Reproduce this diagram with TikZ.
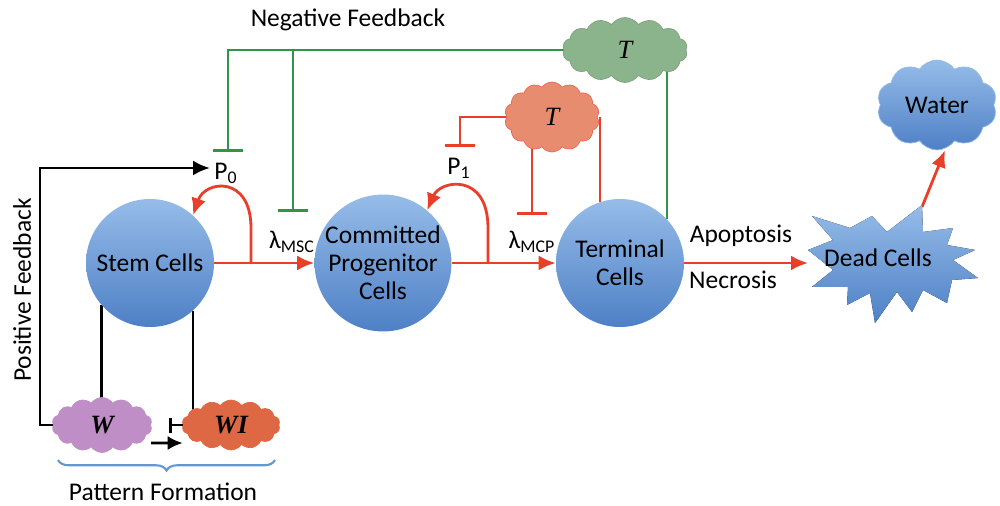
\documentclass[tikz,border=0pt]{standalone}
\usepackage{fontspec}
\setmainfont{Carlito}
\newfontfamily\timesfont{Liberation Serif}
\usetikzlibrary{arrows}
\usetikzlibrary{arrows.meta}
\usetikzlibrary{shapes.symbols}
\usetikzlibrary{decorations.pathreplacing}
\usetikzlibrary{backgrounds}
\usetikzlibrary{positioning}
\definecolor{cellhi}{RGB}{150,188,232}
\definecolor{celllo}{RGB}{78,128,198}
\definecolor{fbred}{RGB}{232,62,42}
\definecolor{fbgreen}{RGB}{46,150,70}
\definecolor{tgreen}{RGB}{140,180,140}
\definecolor{tred}{RGB}{232,140,112}
\definecolor{wpurple}{RGB}{192,142,198}
\definecolor{worange}{RGB}{222,104,68}
\definecolor{braceblue}{RGB}{100,150,210}
\tikzset{cell/.style = {circle, minimum size=2.56cm, inner sep=0pt, align=center,
                        top color=cellhi, bottom color=celllo},
         puff/.style = {cloud, cloud puffs=14, cloud puff arc=110, cloud ignores aspect,
                        inner sep=0pt, font=\timesfont\itshape\fontsize{15}{17}\selectfont},
         redarrow/.style = {fbred, line width=1.6pt, -{Latex[length=3.4mm,width=3mm]}},
         redbar/.style = {fbred, line width=1.5pt, -{Bar[width=6mm,line width=1.5pt]}},
         greenbar/.style = {fbgreen, line width=1.6pt, -{Bar[width=6mm,line width=1.6pt]}},
         blackline/.style = {black, line width=1.6pt}}

\begin{document}
\begin{tikzpicture}[x=0.02cm, y=-0.02cm, font=\fontsize{14.5}{16}\selectfont]
      \useasboundingbox (0,0) rectangle (1000,506);

      \node [cell] (sc) at (150,263) {Stem Cells};
      \node [cell] (cp) at (383,263) {Committed\\Progenitor\\Cells};
      \node [cell] (tc) at (620,263) {Terminal\\Cells};

      % dead cells burst
      \fill [top color=cellhi, bottom color=celllo]
            (808,250) -- (833,240) -- (812,216) -- (850,228) -- (872,216) -- (887,232)
         -- (922,205) -- (923,232) -- (953,228) -- (947,245) -- (975,250) -- (953,260)
         -- (978,278) -- (952,280) -- (947,303) -- (923,290) -- (912,312) -- (897,292)
         -- (875,323) -- (870,293) -- (847,305) -- (848,287) -- (812,287) -- (833,270) -- cycle;
      \node (dc) at (878,258) {Dead Cells};
      \node [puff, cloud puffs=10, minimum width=2.4cm, minimum height=1.8cm, top color=cellhi, bottom color=celllo,
             draw=cellhi, font=\fontsize{14.5}{16}\selectfont] (wa) at (937,105) {Water};

      \node [puff, fill=tgreen, draw=tgreen!90!black, minimum width=2.5cm, minimum height=1.3cm] (tg) at (625,50) {T};
      \node [puff, fill=tred, draw=fbred!80, minimum width=1.9cm, minimum height=1.4cm] (tr) at (552,117) {T};
      \node [puff, fill=wpurple, draw=wpurple, minimum width=2cm, minimum height=1.1cm,
             font=\timesfont\bfseries\itshape\fontsize{15}{17}\selectfont] (wc) at (102,425) {W};
      \node [puff, fill=worange, draw=worange, minimum width=1.96cm, minimum height=1cm,
             font=\timesfont\bfseries\itshape\fontsize{15}{17}\selectfont] (wi) at (231,425) {WI};

      % labels
      \node (nf) at (348,20) {Negative Feedback};
      \node [rotate=90] (pf) at (22,290) {Positive Feedback};
      \node (pt) at (163,492) {Pattern Formation};
      \node (p0) at (226,173) {P\textsubscript{0}};
      \node (p1) at (459,168) {P\textsubscript{1}};
      \node (lmsc) at (292,242) {λ\textsubscript{MSC}};
      \node (lmcp) at (532,242) {λ\textsubscript{MCP}};
      \node (ap) at (741,236) {Apoptosis};
      \node (ne) at (733,280) {Necrosis};

      \coordinate (b0) at (228,152);
      \coordinate (b1) at (293,212);
      \coordinate (b2) at (460,147);
      \coordinate (b3) at (532,215);
      \coordinate (pa) at (210,168);
      \coordinate (l0) at (251,263);
      \coordinate (l1) at (488,263);
      \coordinate (du) at (922,207);
      \coordinate (di) at (808,263);

      \begin{pgfonlayer}{background}
        \draw [greenbar] (tg.center) -| (b0);
        \draw [greenbar] (b1 |- tg.center) -- (b1);
        \draw [fbgreen, line width=1.6pt] (tc.43) -- (tc.43 |- tg.center);
        \draw [redbar] (tr.center) -| (b2);
        \draw [redbar] (b3 |- tr.center) -- (b3);
        \draw [fbred, line width=1.5pt] (tc.108) -- (tc.108 |- tr.center);
        \draw [blackline] (sc.221) -- (sc.221 |- wc.center);
        \draw [blackline] (sc.312) -- (sc.312 |- wi.center);
        \draw [blackline, -{Latex[length=3.4mm,width=3mm]}] (wc.center) -- ++(-62,0) |- (pa);
        \draw [redarrow] (du) -- ([xshift=0.16cm]wa.south);
      \end{pgfonlayer}

      \draw [redarrow] (sc.east) -- (cp.west);
      \draw [redarrow] (cp.east) -- (tc.west);
      \draw [redarrow] (tc.east) -- (di);
      \draw [redarrow] (l0) -- ++(0,-35) .. controls (251,175) and (205,180) .. (sc.48);
      \draw [redarrow] (l1) -- ++(0,-35) .. controls (488,172) and (440,180) .. (cp.50);

      \draw [blackline, -{Latex[length=3mm,width=2.8mm]}] ([yshift=-0.36cm]wc.east) -- ([yshift=-0.36cm]wi.west);
      \draw [blackline, -{Bar[width=3mm,line width=1.6pt]}] (wi.west) -- ++(-14,0);

      \draw [braceblue, line width=1.2pt, decorate, decoration={brace, amplitude=6pt, mirror}] (58,460) -- (275,460);

    \end{tikzpicture}
\end{document}
